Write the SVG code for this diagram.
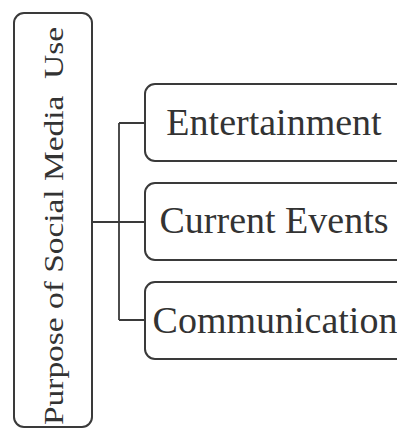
<svg xmlns="http://www.w3.org/2000/svg" width="397" height="429" viewBox="0 0 397 429">
<style>
.box{fill:#ffffff;stroke:#3a3a3a;stroke-width:2}
.lbl{font-family:"Liberation Serif","Times New Roman",serif;fill:#333333}
.conn{fill:none;stroke:#3a3a3a;stroke-width:1.8}
</style>
<rect x="0" y="0" width="397" height="429" fill="#ffffff"/>
<g id="root">
<rect class="box" x="14" y="13" width="78" height="414" rx="10"/>
<text class="lbl" font-size="27" transform="translate(63,425) rotate(-90)" x="0" y="0" textLength="398" lengthAdjust="spacingAndGlyphs" style="white-space:pre">Purpose of Social Media  Use</text>
</g>
<g id="connectors">
<path class="conn" d="M92,222 H145 M119,123 V320 M119,123 H145 M119,320 H145"/>
</g>
<g id="entertainment">
<rect class="box" x="145" y="84" width="270" height="77" rx="10"/>
<text class="lbl" font-size="38" x="274" y="135" text-anchor="middle">Entertainment</text>
</g>
<g id="current-events">
<rect class="box" x="145" y="183" width="270" height="77" rx="10"/>
<text class="lbl" font-size="38" x="274" y="233" text-anchor="middle">Current Events</text>
</g>
<g id="communication">
<rect class="box" x="145" y="282" width="270" height="77" rx="10"/>
<text class="lbl" font-size="38" x="275" y="333" text-anchor="middle">Communication</text>
</g>
</svg>
